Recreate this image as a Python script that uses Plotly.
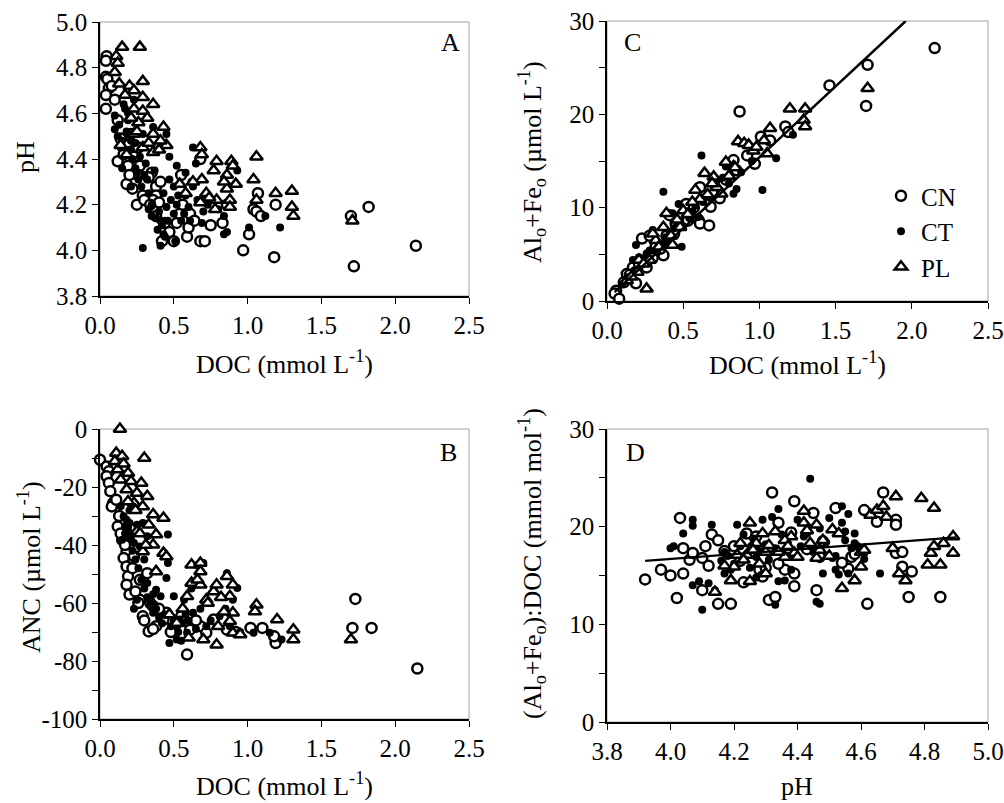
import plotly.graph_objects as go

# ---------------- DATA ----------------
# Panel A: DOC (mmol/L) vs pH
a_cn_doc = [0.045,0.04,0.04,0.05,0.06,0.04,0.04,0.10,0.12,0.18,0.19,0.18,0.25,0.21,0.27,0.29,0.35,0.38,0.38,0.41,0.36,0.42,0.38,0.50,0.52,0.55,0.59,0.60,0.61,0.68,0.71,0.75,0.83,0.68,0.97,1.01,1.04,1.07,1.06,1.09,1.18,1.19,1.70,1.72,1.82,2.14,0.26,0.23,0.33,0.26,0.40,0.54,
            0.08,0.14,0.16,0.20,0.22,0.30,0.34,0.44,0.47,0.56,0.64,0.86,0.12]
a_cn_ph  = [4.85,4.83,4.76,4.75,4.71,4.68,4.62,4.66,4.39,4.46,4.37,4.29,4.20,4.51,4.37,4.24,4.34,4.28,4.24,4.30,4.22,4.04,4.15,4.04,4.12,4.33,4.06,4.10,4.16,4.04,4.04,4.11,4.12,4.40,4.00,4.07,4.18,4.25,4.17,4.15,3.97,4.20,4.15,3.93,4.19,4.02,4.45,4.41,4.32,4.33,4.21,4.16,
            4.72,4.49,4.42,4.33,4.27,4.22,4.20,4.12,4.08,4.20,4.13,4.20,4.57]
a_ct_doc = [0.29,0.10,0.10,0.12,0.14,0.17,0.19,0.21,0.27,0.29,0.32,0.37,0.33,0.35,0.39,0.41,0.43,0.45,0.47,0.45,0.52,0.53,0.57,0.63,0.63,0.61,0.69,0.77,0.84,0.84,0.93,1.01,1.22,1.12,0.50,0.25,0.23,0.15,0.21,0.51,0.41,0.36,0.68,0.58,
            0.13,0.15,0.18,0.20,0.22,0.24,0.26,0.28,0.30,0.33,0.35,0.38,0.40,0.42,0.44,0.46,0.48,0.50,0.52,0.55,0.58,0.60,0.62,0.65,0.66,0.70,0.73,0.80,0.86,0.19,0.16,0.24,0.31,0.43,0.47]
a_ct_ph  = [4.01,4.59,4.53,4.50,4.45,4.62,4.57,4.48,4.41,4.51,4.31,4.35,4.18,4.15,4.09,4.02,4.07,4.19,4.41,4.51,4.37,4.24,4.16,4.45,4.28,4.13,4.12,4.22,4.07,4.15,4.35,4.10,4.10,4.15,4.28,4.34,4.66,4.36,4.28,4.04,4.13,4.54,4.22,4.34,
            4.55,4.48,4.52,4.44,4.40,4.36,4.31,4.28,4.33,4.25,4.20,4.14,4.17,4.11,4.06,4.13,4.22,4.16,4.20,4.13,4.24,4.19,4.30,4.38,4.22,4.17,4.20,4.18,4.08,4.60,4.64,4.47,4.38,4.25,4.31]
a_pl_doc = [0.15,0.27,0.11,0.12,0.10,0.13,0.20,0.23,0.29,0.29,0.36,0.23,0.29,0.26,0.32,0.23,0.36,0.43,0.45,0.36,0.29,0.68,0.69,0.79,0.77,0.89,0.92,1.06,1.04,0.86,0.69,0.58,0.72,0.79,0.88,0.86,0.78,1.06,1.19,1.30,1.30,1.31,1.71,0.68,0.88,0.14,0.18,0.54,0.41,
            0.17,0.21,0.25,0.33,0.40,0.63,0.74,0.84,0.90]
a_pl_ph  = [4.89,4.89,4.85,4.82,4.78,4.73,4.72,4.70,4.74,4.67,4.64,4.62,4.61,4.56,4.58,4.51,4.51,4.54,4.46,4.43,4.45,4.45,4.42,4.39,4.35,4.39,4.29,4.41,4.31,4.33,4.31,4.25,4.25,4.22,4.22,4.27,4.18,4.22,4.25,4.26,4.19,4.15,4.13,4.21,4.19,4.46,4.42,4.29,4.48,
            4.68,4.58,4.52,4.47,4.44,4.30,4.23,4.30,4.37]

# Panel B: DOC (mmol/L) vs ANC (umol/L)
b_cn_doc = [0.0,0.045,0.06,0.045,0.06,0.07,0.09,0.08,0.12,0.15,0.18,0.16,0.18,0.19,0.18,0.20,0.27,0.29,0.33,0.27,0.32,0.36,0.38,0.43,0.50,0.55,0.59,0.61,0.68,0.72,0.77,0.86,1.02,1.10,1.19,1.18,1.73,1.71,1.84,2.15,0.23,0.34,0.45,0.11,
            0.14,0.17,0.22,0.24,0.26,0.30,0.36,0.40,0.48,0.52,0.65,0.92,0.13]
b_cn_anc = [-10.6,-12.9,-14.6,-16.3,-18.6,-21.5,-25.5,-26.7,-33.6,-38.2,-42.2,-44.5,-47.4,-50.8,-53.7,-57.1,-58.9,-64.6,-69.8,-52.0,-49.7,-61.1,-68.0,-65.7,-69.2,-64.6,-77.8,-69.2,-68.0,-70.3,-65.7,-69.2,-68.6,-68.6,-73.8,-71.5,-58.6,-68.6,-68.6,-82.6,-43.9,-60.0,-63.4,-24.4,
            -36.0,-40.0,-48.0,-56.0,-60.0,-66.0,-69.0,-62.0,-70.0,-67.0,-66.0,-70.0,-30.0]
b_ct_doc = [0.14,0.16,0.18,0.20,0.17,0.15,0.20,0.23,0.27,0.32,0.29,0.46,0.46,0.45,0.50,0.38,0.41,0.23,0.25,0.47,0.52,0.59,0.63,0.72,0.81,0.90,0.93,1.04,1.23,1.15,0.86,0.57,0.54,0.32,0.36,0.70,
            0.17,0.19,0.21,0.22,0.24,0.26,0.28,0.30,0.32,0.34,0.36,0.38,0.40,0.42,0.44,0.48,0.50,0.53,0.56,0.58,0.60,0.65,0.68,0.75,0.85,0.88,0.95,0.20,0.25,0.30,0.55,0.66,0.62]
b_ct_anc = [-26.7,-30.1,-31.3,-32.4,-33.6,-38.2,-35.9,-39.3,-40.5,-37.0,-32.4,-36.4,-46.2,-51.4,-57.7,-55.4,-57.7,-62.0,-58.9,-73.8,-72.6,-70.3,-63.4,-68.0,-64.6,-58.9,-54.8,-70.3,-72.6,-70.3,-49.7,-58.9,-65.7,-53.1,-63.4,-46.2,
            -36.0,-34.0,-38.0,-42.0,-45.0,-48.0,-52.0,-55.0,-58.0,-60.0,-57.0,-62.0,-65.0,-67.0,-64.0,-68.0,-66.0,-70.0,-67.0,-64.0,-66.0,-69.0,-62.0,-66.0,-62.0,-68.0,-70.0,-28.0,-33.0,-45.0,-73.0,-47.0,-55.0]
b_pl_doc = [0.135,0.11,0.15,0.30,0.10,0.12,0.19,0.14,0.21,0.28,0.18,0.25,0.23,0.32,0.29,0.36,0.43,0.25,0.38,0.36,0.43,0.38,0.29,0.62,0.68,0.68,0.62,0.68,0.77,0.79,0.86,0.90,0.88,0.90,0.88,0.80,0.79,0.70,0.60,0.52,0.90,0.95,1.06,1.05,1.20,1.31,1.31,1.70,0.59,0.72,
            0.16,0.19,0.24,0.33,0.27,0.31,0.45,0.66,0.73,0.82,0.84,0.56,0.47]
b_pl_anc = [0.0,-8.3,-9.4,-10.0,-11.1,-14.0,-15.2,-17.5,-18.0,-18.6,-20.9,-22.1,-25.5,-23.2,-26.7,-29.5,-30.7,-35.3,-36.4,-39.9,-42.8,-49.1,-42.2,-46.8,-46.2,-49.1,-53.1,-53.7,-56.0,-53.7,-50.8,-53.7,-57.7,-63.4,-66.3,-68.0,-74.4,-72.6,-72.0,-66.9,-70.3,-70.9,-60.6,-62.9,-65.7,-69.2,-72.6,-72.6,-57.7,-58.9,
            -12.0,-25.0,-28.0,-33.0,-36.0,-40.0,-44.0,-52.0,-60.0,-58.0,-63.0,-62.0,-64.0]

# Panel C: DOC (mmol/L) vs Al_o+Fe_o (umol/L)
c_cn_doc = [0.06,0.05,0.08,0.19,0.23,0.28,0.26,0.37,0.41,0.44,0.48,0.60,0.61,0.67,0.68,0.74,0.87,0.97,1.01,1.07,1.17,1.19,1.46,1.70,1.71,2.15,0.32,0.52,0.61,0.83,0.13,0.17,
            0.11,0.15,0.21,0.30,0.35,0.39,0.45,0.53,0.57,0.65,0.78,0.85,0.92]
c_cn_alfe = [1.1,0.8,0.25,1.9,6.7,7.0,3.6,4.9,9.2,7.2,9.0,8.7,8.3,8.1,10.1,11.0,20.3,14.7,17.6,17.2,18.7,18.1,23.1,20.9,25.3,27.1,5.8,10.4,12.2,15.1,2.9,3.6,
             2.0,2.8,4.0,4.6,5.6,7.0,8.3,8.6,10.0,10.9,13.0,14.0,15.6]
c_ct_doc = [0.19,0.17,0.37,0.62,0.49,0.47,0.83,0.85,1.02,1.11,1.22,0.26,0.35,0.41,0.52,0.65,0.78,0.91,0.13,0.30,0.43,0.72,0.21,
            0.10,0.15,0.18,0.23,0.25,0.28,0.33,0.36,0.38,0.40,0.44,0.46,0.50,0.54,0.56,0.58,0.60,0.63,0.68,0.70,0.74,0.76,0.80,0.88,0.95]
c_ct_alfe = [6.0,4.4,11.7,15.6,5.8,10.4,11.5,12.0,11.9,15.3,17.8,5.1,6.1,7.2,9.4,11.2,14.4,16.9,2.2,7.6,9.4,12.9,4.7,
             1.8,2.6,3.3,3.9,4.6,5.4,5.2,6.0,6.8,6.4,7.8,8.2,8.0,8.9,9.6,10.2,9.0,10.6,11.0,12.2,11.8,13.2,12.6,13.8,15.0]
c_pl_doc = [0.26,0.13,0.20,0.28,0.32,0.37,0.43,0.50,0.58,0.64,0.70,0.75,0.78,0.86,0.90,0.93,1.05,1.07,1.20,1.30,1.29,1.30,1.71,0.61,0.72,0.83,0.96,0.39,0.30,0.48,0.21,
            0.16,0.24,0.34,0.42,0.46,0.53,0.56,0.66,0.69,0.80,0.84,0.98,1.03]
c_pl_alfe = [1.3,2.2,3.1,4.4,6.5,7.9,6.0,9.7,11.9,13.7,13.3,11.5,14.9,17.1,16.9,16.7,15.8,18.5,20.6,20.6,19.4,18.7,22.8,10.9,12.2,14.4,16.1,9.4,7.2,7.9,4.4,
             2.6,4.0,5.8,7.0,8.7,9.3,10.6,11.4,12.6,13.4,14.3,16.5,17.2]
c_fit_slope = 15.2
c_fit_intercept = 0.2
c_fit_doc_start = 0.05

# Panel D: pH vs (Al_o+Fe_o):DOC (mmol/mol)
d_cn_ph = [3.92,3.97,4.00,4.03,4.04,4.02,4.04,4.06,4.07,4.10,4.12,4.10,4.13,4.11,4.15,4.15,4.19,4.20,4.23,4.28,4.29,4.32,4.31,4.33,4.34,4.39,4.39,4.39,4.36,4.45,4.46,4.52,4.56,4.57,4.61,4.62,4.65,4.67,4.71,4.71,4.71,4.73,4.73,4.75,4.76,4.85,4.47,4.24,
           4.17,4.22,4.26,4.30,4.34,4.38,4.43,4.48,4.54,4.58,4.27]
d_cn_ratio = [14.6,15.6,15.0,20.9,15.2,12.7,17.8,16.6,17.3,16.8,16.0,13.5,19.2,18.0,18.6,12.1,12.1,18.0,14.3,15.6,14.9,23.5,12.5,12.8,20.4,22.6,15.2,13.9,15.6,21.4,13.5,21.9,15.7,16.9,21.7,12.1,20.5,23.5,20.7,20.2,17.3,17.4,15.9,12.8,15.4,12.8,16.9,19.3,
              17.5,16.5,17.9,15.8,16.2,19.4,17.7,18.5,16.3,17.2,19.0]
d_ct_ph = [4.00,4.01,4.04,4.07,4.07,4.07,4.09,4.12,4.13,4.14,4.10,4.17,4.21,4.23,4.29,4.32,4.34,4.34,4.33,4.44,4.46,4.47,4.48,4.50,4.51,4.52,4.53,4.54,4.56,4.55,4.56,4.58,4.58,4.66,4.54,4.55,4.40,4.41,4.27,4.19,4.43,4.44,
           4.16,4.18,4.20,4.22,4.24,4.25,4.26,4.28,4.30,4.31,4.33,4.35,4.37,4.38,4.42,4.45,4.47,4.49,4.52,4.57,4.59,4.61,4.17,4.27,4.36]
d_ct_ratio = [17.8,18.0,19.3,20.7,20.1,14.0,14.4,14.2,20.2,13.5,11.5,17.4,20.2,19.2,20.7,21.0,21.8,14.4,12.0,24.9,12.3,12.1,15.2,20.9,16.8,15.6,15.1,22.1,21.3,19.5,15.2,19.3,18.3,15.2,20.4,18.6,20.7,18.0,16.9,15.6,19.3,18.0,
              16.5,17.0,16.2,18.0,17.2,15.8,18.8,17.5,18.2,16.6,17.8,19.2,17.0,15.6,19.0,17.4,19.8,18.4,17.0,17.8,18.0,16.7,15.2,14.8,14.5]
d_pl_ph = [4.14,4.19,4.20,4.21,4.22,4.25,4.25,4.27,4.29,4.30,4.30,4.33,4.36,4.38,4.39,4.42,4.42,4.44,4.46,4.46,4.48,4.51,4.54,4.58,4.60,4.60,4.63,4.65,4.67,4.70,4.71,4.72,4.74,4.79,4.81,4.82,4.83,4.85,4.86,4.89,4.89,4.83,4.36,4.24,
           4.17,4.23,4.26,4.28,4.31,4.34,4.37,4.40,4.43,4.47,4.50,4.53,4.61,4.68]
d_pl_ratio = [13.3,14.5,15.9,17.1,18.3,14.4,20.4,18.3,19.3,17.4,15.2,19.5,16.9,19.0,17.3,21.6,20.4,18.3,16.8,20.2,18.6,19.7,13.7,14.5,15.9,17.4,21.2,21.7,22.1,17.8,23.1,15.2,14.5,22.9,16.1,17.3,18.0,16.1,18.3,19.0,17.3,21.9,18.6,17.1,
              16.0,16.6,17.6,16.2,18.1,17.4,18.0,16.9,19.6,17.6,17.0,19.3,17.6,21.0]
d_fit_slope = 2.45
d_fit_intercept = 6.89
d_fit_ph = [3.92, 4.90]

series_names = ["CN", "CT", "PL"]

# ---------------- STYLE ----------------
FONT = "Liberation Serif"
FS_TICK = 25
FS_TITLE = 26
styles = {
    "CN": dict(symbol="circle", size=10, color="white", line=dict(color="black", width=2.5)),
    "CT": dict(symbol="circle", size=8, color="black", line=dict(color="black", width=0)),
    "PL": dict(symbol="triangle-up", size=11, color="white", line=dict(color="black", width=2.5)),
}

W, H = 1004, 803
fig = go.Figure()

def add_series(xs, ys, xa, ya, legend=False):
    for name, x, y in zip(series_names, xs, ys):
        fig.add_trace(go.Scatter(
            x=x, y=y, mode="markers", name=name, marker=styles[name],
            xaxis=xa, yaxis=ya, showlegend=legend, cliponaxis=False,
        ))

add_series([a_cn_doc, a_ct_doc, a_pl_doc], [a_cn_ph, a_ct_ph, a_pl_ph], "x", "y")
add_series([c_cn_doc, c_ct_doc, c_pl_doc], [c_cn_alfe, c_ct_alfe, c_pl_alfe], "x2", "y2", legend=True)
add_series([b_cn_doc, b_ct_doc, b_pl_doc], [b_cn_anc, b_ct_anc, b_pl_anc], "x3", "y3")
add_series([d_cn_ph, d_ct_ph, d_pl_ph], [d_cn_ratio, d_ct_ratio, d_pl_ratio], "x4", "y4")

# regression lines
c_ymax = 30
c_fit_x = [c_fit_doc_start, (c_ymax - c_fit_intercept) / c_fit_slope]
fig.add_trace(go.Scatter(x=c_fit_x, y=[c_fit_slope * v + c_fit_intercept for v in c_fit_x],
                         mode="lines", line=dict(color="black", width=2.5),
                         xaxis="x2", yaxis="y2", showlegend=False))
fig.add_trace(go.Scatter(x=d_fit_ph, y=[d_fit_slope * v + d_fit_intercept for v in d_fit_ph],
                         mode="lines", line=dict(color="black", width=2.3),
                         xaxis="x4", yaxis="y4", showlegend=False))

def px_x(p):
    return p / W

def px_y(p):
    return 1 - p / H

xL = [px_x(100), px_x(469)]
xR = [px_x(607), px_x(988)]
yA = [px_y(296), px_y(22)]
yC = [px_y(301), px_y(21)]
yB = [px_y(719), px_y(429)]
yD = [px_y(722), px_y(429)]

tickfont = dict(family=FONT, size=FS_TICK, color="black")
titlefont = dict(family=FONT, size=FS_TITLE, color="black")
common = dict(showline=True, linecolor="black", linewidth=1.5, ticks="outside",
              ticklen=6, tickwidth=1.2, tickcolor="black", showgrid=False,
              zeroline=False, tickfont=tickfont, mirror=False, automargin=False)

doc_ticks = [0.0, 0.5, 1.0, 1.5, 2.0, 2.5]
ph_ticks = [3.8, 4.0, 4.2, 4.4, 4.6, 4.8, 5.0]
anc_ticks = [0, -20, -40, -60, -80, -100]
anc_minor = [-10, -30, -50, -70, -90]
ratio_ticks = [0, 10, 20, 30]
ratio_minor = [5, 15, 25]

fig.update_layout(
    template="none",
    width=W, height=H, margin=dict(l=0, r=0, t=0, b=0, pad=0),
    paper_bgcolor="white", plot_bgcolor="white",
    font=dict(family=FONT, size=FS_TICK, color="black"),
    xaxis=dict(domain=xL, anchor="y", range=[0, 2.5], tickvals=doc_ticks,
               ticktext=[f"{v:.1f}" for v in doc_ticks], **common),
    yaxis=dict(domain=yA, anchor="x", range=[3.8, 5.0], tickvals=ph_ticks,
               ticktext=[f"{v:.1f}" for v in ph_ticks], **common),
    xaxis2=dict(domain=xR, anchor="y2", range=[0, 2.5], tickvals=doc_ticks,
                ticktext=[f"{v:.1f}" for v in doc_ticks], **common),
    yaxis2=dict(domain=yC, anchor="x2", range=[0, 30], tickvals=ratio_ticks,
                ticktext=[str(v) for v in ratio_ticks],
                minor=dict(tickvals=ratio_minor, ticks="outside", ticklen=6, tickcolor="black"),
                **common),
    xaxis3=dict(domain=xL, anchor="y3", range=[0, 2.5], tickvals=doc_ticks,
                ticktext=[f"{v:.1f}" for v in doc_ticks], **common),
    yaxis3=dict(domain=yB, anchor="x3", range=[-100, 0], tickvals=anc_ticks,
                ticktext=[str(v) for v in anc_ticks],
                minor=dict(tickvals=anc_minor, ticks="outside", ticklen=6, tickcolor="black"),
                **common),
    xaxis4=dict(domain=xR, anchor="y4", range=[3.8, 5.0], tickvals=ph_ticks,
                ticktext=[f"{v:.1f}" for v in ph_ticks], **common),
    yaxis4=dict(domain=yD, anchor="x4", range=[0, 30], tickvals=ratio_ticks,
                ticktext=[str(v) for v in ratio_ticks],
                minor=dict(tickvals=ratio_minor, ticks="outside", ticklen=6, tickcolor="black"),
                **common),
    legend=dict(x=px_x(881), y=px_y(173), xanchor="left", yanchor="top",
                font=dict(family=FONT, size=FS_TICK, color="black"),
                bgcolor="rgba(0,0,0,0)", borderwidth=0),
    showlegend=True,
)

# light grey frame (top / right edges)
for xr, yr in [("x", "y"), ("x2", "y2"), ("x3", "y3"), ("x4", "y4")]:
    fig.add_shape(type="rect", xref=f"{xr} domain", yref=f"{yr} domain",
                  x0=0, x1=1, y0=0, y1=1, line=dict(color="#a0a0a0", width=1), layer="below")

# axis titles (placed as annotations in pixel positions)
titles = [
    ("DOC (mmol L<sup>-1</sup>)", 284, 362, 0),
    ("DOC (mmol L<sup>-1</sup>)", 797, 363, 0),
    ("DOC (mmol L<sup>-1</sup>)", 284, 784, 0),
    ("pH", 797, 786, 0),
    ("pH", 25, 157, -90),
    ("Al<sub>o</sub>+Fe<sub>o</sub> (µmol L<sup>-1</sup>)", 532, 162, -90),
    ("ANC (µmol L<sup>-1</sup>)", 29, 567, -90),
    ("(Al<sub>o</sub>+Fe<sub>o</sub>):DOC (mmol mol<sup>-1</sup>)", 532, 564, -90),
]
for text, cx, cy, ang in titles:
    fig.add_annotation(text=text, xref="paper", yref="paper", x=px_x(cx), y=px_y(cy),
                       xanchor="center", yanchor="middle", textangle=ang, showarrow=False,
                       font=titlefont)

# panel letters
for letter, cx, cy in [("A", 450, 43), ("C", 632, 43), ("B", 448, 452), ("D", 635, 452)]:
    fig.add_annotation(text=letter, xref="paper", yref="paper", x=px_x(cx), y=px_y(cy),
                       xanchor="center", yanchor="middle", showarrow=False,
                       font=dict(family=FONT, size=FS_TITLE, color="black"))

fig.write_html("out.html", config={"displayModeBar": False},
               post_script="document.body.style.margin='0';document.body.style.overflow='hidden';")
